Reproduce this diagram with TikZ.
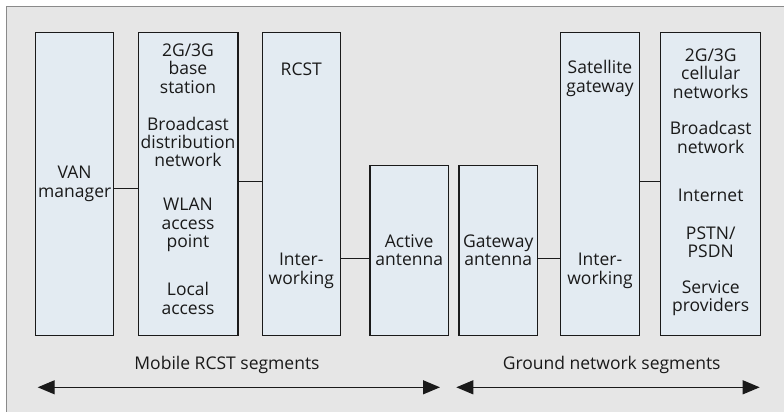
\documentclass[tikz,border=0pt]{standalone}
\usepackage{fontspec}
\setmainfont{Open Sans}
\usetikzlibrary{arrows.meta}
\definecolor{bggray}{HTML}{E6E6E6}
\definecolor{framegray}{HTML}{8A8A8A}
\definecolor{boxfill}{HTML}{E3EBF2}
\definecolor{ink}{HTML}{1A1A1A}
\begin{document}
\begin{tikzpicture}[x=1pt,y=-1pt,
  blk/.style={draw=ink,fill=boxfill,line width=1.2pt,rectangle,inner sep=0pt,outer sep=0pt,anchor=north west},
  lbl/.style={align=center,inner sep=0pt,font=\fontsize{17.5}{18.4}\selectfont,text=ink},
  conn/.style={draw=ink,line width=1pt},
  span/.style={draw=ink,line width=1.2pt,{Triangle[length=17pt,width=14pt]}-{Triangle[length=17pt,width=14pt]}}
]
\useasboundingbox (0,0) rectangle (784,412);
\fill[bggray] (6.5,6.5) rectangle (790,420);
\draw[framegray,line width=1.2pt] (6.5,420) -- (6.5,6.5) -- (790,6.5);

% boxes
\node[blk,minimum width=78pt,minimum height=303.5pt] (van) at (35.7,32.3) {};
\node[blk,minimum width=99.7pt,minimum height=303.5pt] (bs) at (138.3,32.3) {};
\node[blk,minimum width=78pt,minimum height=303.5pt] (rcst) at (262.3,32.3) {};
\node[blk,minimum width=78.3pt,minimum height=170pt] (aa) at (370,165.7) {};
\node[blk,minimum width=78.3pt,minimum height=170pt] (ga) at (459,165.7) {};
\node[blk,minimum width=78.6pt,minimum height=303.5pt] (sg) at (560.7,32.3) {};
\node[blk,minimum width=100pt,minimum height=303.5pt] (net) at (660.7,32.3) {};

% labels
\node[lbl] (t1) at (74.7,184) {VAN\\manager};
\node[lbl] (t2) at (188,68.5) {2G/3G\\base\\station};
\node[lbl] (t3) at (188,142) {Broadcast\\distribution\\network};
\node[lbl] (t4) at (188,225) {WLAN\\access\\point};
\node[lbl] (t5) at (188,298.5) {Local\\access};
\node[lbl] (t6) at (301.3,69) {RCST};
\node[lbl] (t7) at (301.3,271) {Inter-\\working};
\node[lbl] (t8) at (409.2,250) {Active\\antenna};
\node[lbl] (t9) at (498.2,250) {Gateway\\antenna};
\node[lbl] (t10) at (600,78.5) {Satellite\\gateway};
\node[lbl] (t11) at (600,271) {Inter-\\working};
\node[lbl] (t12) at (710.7,73.5) {2G/3G\\cellular\\networks};
\node[lbl] (t13) at (710.7,137.5) {Broadcast\\network};
\node[lbl] (t14) at (710.7,195) {Internet};
\node[lbl] (t15) at (710.7,242) {PSTN/\\PSDN};
\node[lbl] (t16) at (710.7,298) {Service\\providers};
\node[lbl] (m) at (227,365) {Mobile RCST segments};
\node[lbl] (g) at (611.7,365) {Ground network segments};

% connector levels
\coordinate (y1) at (0,188);
\coordinate (y2) at (0,181.7);
\coordinate (y3) at (0,258);
\draw[conn] (van.east |- y1) -- (bs.west |- y1);
\draw[conn] (bs.east |- y2) -- (rcst.west |- y2);
\draw[conn] (rcst.east |- y3) -- (aa.west |- y3);
\draw[conn] (ga.east |- y3) -- (sg.west |- y3);
\draw[conn] (sg.east |- y2) -- (net.west |- y2);

% span arrows
\coordinate (a1) at (37.7,387.3);
\coordinate (a2) at (440,387.3);
\coordinate (b1) at (456.3,387.3);
\coordinate (b2) at (759.7,387.3);
\draw[span] (a1) -- (a2);
\draw[span] (b1) -- (b2);
\end{tikzpicture}
\end{document}
